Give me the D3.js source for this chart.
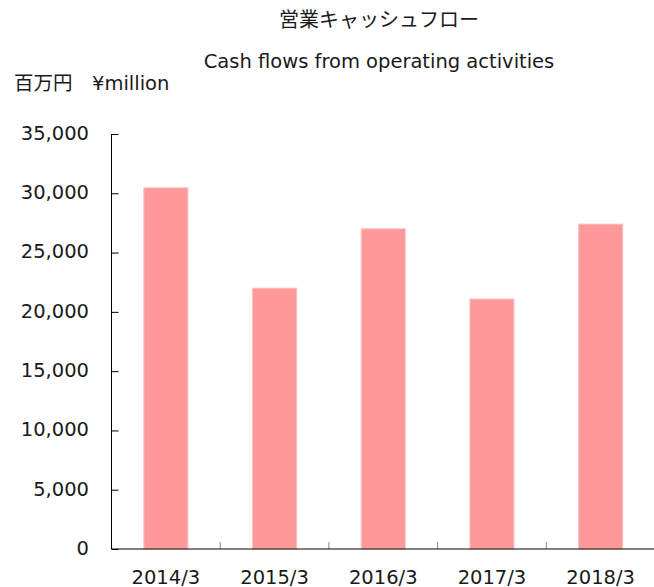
<!DOCTYPE html>
<html>
<head>
<meta charset="utf-8">
<script src="https://cdn.jsdelivr.net/npm/d3@7"></script>
<style>
  body { margin: 0; background: #fff; }
  svg text { font-family: "DejaVu Sans", "Noto Sans CJK JP", sans-serif; fill: #1a1a1a; }
</style>
</head>
<body>
<div id="chart"></div>
<script>
// data
const categories = ["2014/3", "2015/3", "2016/3", "2017/3", "2018/3"];
const cashFlow = [30460, 22000, 27000, 21080, 27400];
const yTicks = [0, 5000, 10000, 15000, 20000, 25000, 30000, 35000];

const titleJa = "営業キャッシュフロー",
    titleEn = "Cash flows from operating activities",
    unitLabel = "百万円　¥million";

const width = 654, height = 587,
    margin = { top: 134, bottom: 38, left: 111.5, right: -1 },
    fontSize = 19.5;

const svg = d3.select("#chart")
    .append("svg")
    .attr("width", width)
    .attr("height", height);

// scales
const xScale = d3.scaleBand()
    .domain(categories)
    .range([margin.left, width - margin.right])
    .paddingInner(0.595)
    .paddingOuter(0.2975);

const yScale = d3.scaleLinear()
    .domain([0, 35000])
    .range([height - margin.bottom, margin.top]);

// titles
svg.append("text")
    .attr("x", 379)
    .attr("y", 27)
    .attr("text-anchor", "middle")
    .style("font-size", "20px")
    .text(titleJa);

svg.append("text")
    .attr("x", 379)
    .attr("y", 68)
    .attr("text-anchor", "middle")
    .style("font-size", fontSize + "px")
    .text(titleEn);

svg.append("text")
    .attr("x", 14)
    .attr("y", 90)
    .style("font-size", fontSize + "px")
    .text(unitLabel);

// bars
svg.selectAll("rect.bar")
    .data(cashFlow)
    .join("rect")
    .attr("class", "bar")
    .attr("x", (d, i) => xScale(categories[i]))
    .attr("width", xScale.bandwidth())
    .attr("y", d => yScale(d))
    .attr("height", d => yScale(0) - yScale(d))
    .attr("fill", "#ff9999")
    .attr("stroke", "#ffbdbd")
    .attr("stroke-width", 1);

// category separators (small gray ticks pointing up)
const boundary = d => xScale(d) - xScale.step() * xScale.paddingOuter();
svg.selectAll("line.xtick")
    .data(categories)
    .join("line")
    .attr("class", "xtick")
    .attr("x1", boundary)
    .attr("x2", boundary)
    .attr("y1", yScale(0))
    .attr("y2", yScale(0) - 7)
    .attr("stroke", "#888")
    .attr("stroke-width", 1);

// y axis
const yAxis = d3.axisRight(yScale)
    .tickValues(yTicks)
    .tickSize(7)
    .tickFormat(d3.format(","));

const gy = svg.append("g")
    .attr("class", "axis y-axis")
    .attr("transform", `translate(${margin.left}, 0)`)
    .call(yAxis);
gy.select(".domain").remove();
gy.selectAll(".tick text").remove();
gy.selectAll(".tick line").attr("stroke", "#000");
gy.append("line")
    .attr("x1", 0).attr("x2", 0)
    .attr("y1", yScale(35000)).attr("y2", yScale(0))
    .attr("stroke", "#000");

svg.selectAll("text.ylabel")
    .data(yTicks)
    .join("text")
    .attr("class", "ylabel")
    .attr("x", 89)
    .attr("y", d => yScale(d))
    .attr("dy", "0.3em")
    .attr("text-anchor", "end")
    .style("font-size", fontSize + "px")
    .text(d3.format(","));

// x axis
svg.append("line")
    .attr("x1", margin.left)
    .attr("x2", width)
    .attr("y1", yScale(0))
    .attr("y2", yScale(0))
    .attr("stroke", "#000");

svg.selectAll("text.xlabel")
    .data(categories)
    .join("text")
    .attr("class", "xlabel")
    .attr("x", d => xScale(d) + xScale.bandwidth() / 2)
    .attr("y", 584)
    .attr("text-anchor", "middle")
    .style("font-size", fontSize + "px")
    .text(d => d);
</script>
</body>
</html>
